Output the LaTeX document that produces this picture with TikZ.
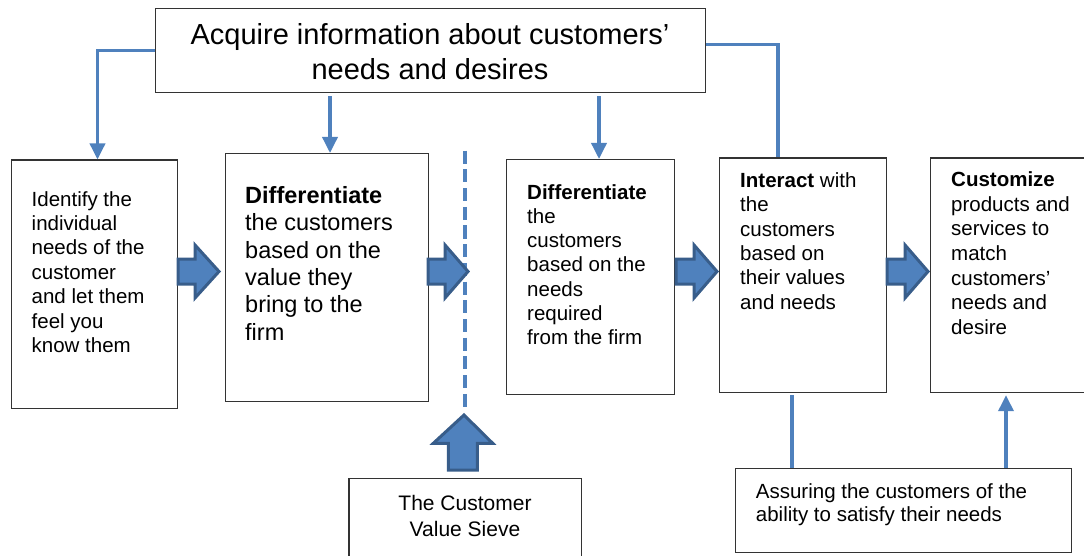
\documentclass[tikz,border=0pt]{standalone}
\usepackage{fontspec}
\setmainfont{Liberation Sans}
\usetikzlibrary{arrows.meta,calc,positioning}
\definecolor{lineblue}{RGB}{79,129,189}
\definecolor{darkblue}{RGB}{56,93,138}
\tikzset{
    box/.style = {draw=black!80, line width=1.2pt, rectangle, inner sep=0pt, anchor=north west},
    txt/.style = {anchor=base west, align=left, inner sep=0pt, font=\fontsize{20.5}{24.4}\selectfont},
    link/.style = {draw=lineblue, line width=3.5pt},
    tip/.style = {-{Triangle[width=15pt,length=16pt]}},
    fat/.style = {draw=darkblue, fill=lineblue, line width=3pt, line join=miter}
}
\begin{document}
\begin{tikzpicture}[x=1pt,y=-1pt]
    \useasboundingbox (0,0) rectangle (1084,556);
    \clip (0,0) rectangle (1084,556);

    % boxes
    \node[box, minimum width=550, minimum height=84] (acq) at (155,8) {};
    \node[box, minimum width=166, minimum height=248] (ident) at (11,159.5) {};
    \node[box, minimum width=203, minimum height=247.5] (diffv) at (225,153) {};
    \node[box, minimum width=168, minimum height=235] (diffn) at (506,159) {};
    \node[box, minimum width=167, minimum height=234] (inter) at (719,157.5) {};
    \node[box, minimum width=153.5, minimum height=234] (custom) at (930,157.5) {};
    \node[box, minimum width=232.7, minimum height=100] (sieve) at (348.3,477.7) {};
    \node[box, minimum width=336, minimum height=84] (assure) at (735,468) {};

    % texts (base = baseline of the last line)
    \node[txt, anchor=base, align=center, font=\fontsize{29}{34.3}\selectfont] at (430,79.3)
        {Acquire information about customers’\\needs and desires};
    \node[txt] at (31.5,352.4) {Identify the\\individual\\needs of the\\customer\\and let them\\feel you\\know them};
    \node[txt, font=\fontsize{23.5}{27.4}\selectfont] at (245,340.3)
        {\textbf{Differentiate}\\the customers\\based on the\\value they\\bring to the\\firm};
    \node[txt, font=\fontsize{20.5}{24.2}\selectfont] at (527,344.5)
        {\textbf{Differentiate}\\the\\customers\\based on the\\needs\\required\\from the firm};
    \node[txt] at (740,309.3) {\textbf{Interact} with\\the\\customers\\based on\\their values\\and needs};
    \node[txt, font=\fontsize{20.5}{24.6}\selectfont] at (951,334.3)
        {\textbf{Customize}\\products and\\services to\\match\\customers’\\needs and\\desire};
    \node[txt, anchor=base, align=center, font=\fontsize{21}{26.7}\selectfont] at (465,536.7)
        {The Customer\\Value Sieve};
    \node[txt, font=\fontsize{20.5}{23.4}\selectfont] at (755.7,521.7)
        {Assuring the customers of the\\ability to satisfy their needs};

    % connectors from the top box
    \draw[link, tip] (acq.west) -| (ident.north -| 97.5,0);
    \draw[link, tip, shorten <=3pt] (acq.south -| 330,0) -- (diffv.north -| 330,0);
    \draw[link, tip, shorten <=3pt] (acq.south -| 599,0) -- (diffn.north -| 599,0);
    \draw[link] ([yshift=6pt]acq.east) -| (inter.north -| 778,0);

    % connectors at the bottom
    \draw[link, shorten <=2.5pt] (inter.south -| 792,0) -- (assure.north -| 792,0);
    \draw[link, tip, shorten >=2.5pt] (assure.north -| 1006,0) -- (custom.south -| 1006,0);

    % the sieve
    \coordinate (sievetop) at (465,150.7);
    \coordinate (sievebot) at (465,412);
    \draw[link, line width=4pt, dash pattern=on 13pt off 5.7pt] (sievetop) -- (sievebot);

    % block arrows
    \foreach \a/\b/\c in {178/195/219, 428/445/468, 676/694/717, 887/905/928}
        \draw[fat] (\a,259) -- (\b,259) -- (\b,245) -- (\c,271.5) -- (\b,298) -- (\b,284) -- (\a,284) -- cycle;
    \draw[fat] (448.3,470) -- (448.3,443.3) -- (433.3,443.3) -- (464,415) -- (492.7,443.3)
        -- (477.3,443.3) -- (477.3,470) -- cycle;

\end{tikzpicture}
\end{document}
